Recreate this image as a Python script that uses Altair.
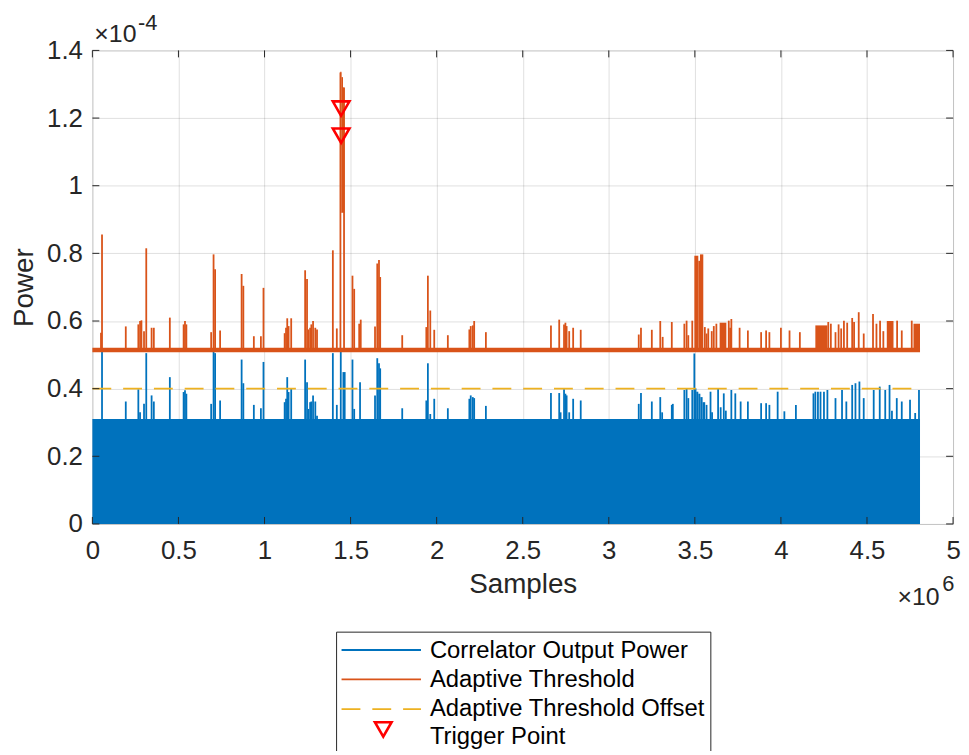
import altair as alt
import pandas as pd

# ---- data (x in units of 1e6 samples, power in units of 1e-4) ----
x_ticks = [0, 0.5, 1, 1.5, 2, 2.5, 3, 3.5, 4, 4.5, 5]
y_ticks = [0, 0.2, 0.4, 0.6, 0.8, 1.0, 1.2, 1.4]

signal_start = 0.0
signal_end = 4.808
blue_floor = 0.31
orange_floor = 0.514
offset_level = 0.40

blue_spike_x = [0.056, 0.194, 0.267, 0.277, 0.300, 0.313, 0.344, 0.357, 0.450, 0.530, 0.538, 0.546,
                0.690, 0.704, 0.713, 0.742, 0.867, 0.877, 0.938, 0.979, 0.994, 1.117, 1.125, 1.132,
                1.140, 1.155, 1.236, 1.247, 1.255, 1.265, 1.272, 1.282, 1.295, 1.305, 1.397, 1.420,
                1.443, 1.511, 1.521, 1.555, 1.642, 1.655, 1.665, 1.672, 1.800, 1.940, 1.949, 1.963,
                1.986, 2.065, 2.190, 2.198, 2.210, 2.218, 2.286, 2.664, 2.712, 2.720, 2.740, 2.748,
                2.755, 2.770, 2.793, 2.837, 3.174, 3.187, 3.250, 3.299, 3.310, 3.366, 3.372, 3.439,
                3.452, 3.462, 3.485, 3.497, 3.504, 3.568, 3.591, 3.600, 3.635, 3.650, 3.668, 3.680,
                3.712, 3.735, 3.766, 3.808, 3.885, 3.914, 3.933, 3.981, 4.020, 4.087, 4.189, 4.200,
                4.215, 4.230, 4.250, 4.270, 4.317, 4.355, 4.380, 4.414, 4.433, 4.456, 4.481, 4.539,
                4.574, 4.606, 4.631, 4.645, 4.673, 4.702, 4.750, 4.780, 4.802]
blue_spike_y = [0.509, 0.362, 0.398, 0.330, 0.355, 0.505, 0.380, 0.362, 0.434, 0.390, 0.395, 0.385,
                0.355, 0.509, 0.505, 0.365, 0.486, 0.416, 0.352, 0.342, 0.479, 0.360, 0.370, 0.434,
                0.390, 0.400, 0.486, 0.419, 0.340, 0.360, 0.362, 0.380, 0.362, 0.320, 0.505, 0.352,
                0.509, 0.486, 0.340, 0.419, 0.380, 0.490, 0.475, 0.460, 0.342, 0.365, 0.475, 0.325,
                0.370, 0.342, 0.370, 0.380, 0.375, 0.372, 0.349, 0.387, 0.387, 0.330, 0.398, 0.385,
                0.380, 0.330, 0.370, 0.365, 0.355, 0.387, 0.362, 0.375, 0.330, 0.352, 0.355, 0.396,
                0.401, 0.372, 0.396, 0.504, 0.401, 0.352, 0.391, 0.330, 0.401, 0.345, 0.386, 0.335,
                0.396, 0.386, 0.362, 0.362, 0.357, 0.357, 0.352, 0.391, 0.333, 0.352, 0.386, 0.391,
                0.391, 0.391, 0.391, 0.396, 0.372, 0.396, 0.362, 0.411, 0.416, 0.421, 0.372, 0.396,
                0.406, 0.396, 0.411, 0.335, 0.372, 0.362, 0.367, 0.328, 0.396]

blue_block_x1 = [1.453, 3.508, 3.520, 3.532, 3.545]
blue_block_x2 = [1.471, 3.520, 3.532, 3.545, 3.560]
blue_block_y = [0.449, 0.391, 0.385, 0.375, 0.360]

orange_spike_x = [0.050, 0.056, 0.194, 0.267, 0.277, 0.285, 0.300, 0.313, 0.344, 0.357, 0.450, 0.530,
                  0.538, 0.546, 0.690, 0.704, 0.713, 0.742, 0.867, 0.877, 0.938, 0.979, 0.994, 1.117,
                  1.125, 1.132, 1.140, 1.155, 1.236, 1.247, 1.255, 1.265, 1.272, 1.282, 1.295, 1.305,
                  1.397, 1.420, 1.441, 1.462, 1.511, 1.521, 1.550, 1.559, 1.642, 1.655, 1.665, 1.672,
                  1.800, 1.940, 1.949, 1.963, 1.986, 2.065, 2.190, 2.198, 2.210, 2.218, 2.286, 2.664,
                  2.712, 2.740, 2.748, 2.755, 2.770, 2.793, 2.837, 3.174, 3.187, 3.250, 3.299, 3.313,
                  3.366, 3.439, 3.452, 3.462, 3.485, 3.558, 3.568, 3.578, 3.598, 3.610, 3.625, 3.697,
                  3.705, 3.712, 3.760, 3.808, 3.885, 3.914, 3.933, 4.000, 4.050, 4.110, 4.275, 4.290,
                  4.317, 4.335, 4.350, 4.366, 4.385, 4.414, 4.425, 4.452, 4.481, 4.535, 4.555, 4.576,
                  4.595, 4.675, 4.702, 4.760]
orange_spike_y = [0.565, 0.856, 0.584, 0.590, 0.600, 0.602, 0.570, 0.815, 0.580, 0.580, 0.610, 0.590,
                  0.600, 0.590, 0.567, 0.797, 0.753, 0.572, 0.739, 0.704, 0.555, 0.555, 0.698, 0.564,
                  0.580, 0.608, 0.585, 0.608, 0.750, 0.724, 0.575, 0.580, 0.590, 0.600, 0.580, 0.575,
                  0.809, 0.578, 1.335, 1.290, 0.734, 0.695, 0.592, 0.604, 0.584, 0.770, 0.780, 0.730,
                  0.558, 0.582, 0.734, 0.631, 0.574, 0.558, 0.575, 0.585, 0.587, 0.600, 0.567, 0.587,
                  0.604, 0.590, 0.595, 0.585, 0.570, 0.580, 0.574, 0.560, 0.580, 0.574, 0.600, 0.553,
                  0.597, 0.592, 0.601, 0.558, 0.601, 0.582, 0.563, 0.578, 0.570, 0.585, 0.592, 0.601,
                  0.580, 0.606, 0.580, 0.572, 0.567, 0.572, 0.567, 0.580, 0.572, 0.567, 0.597, 0.592,
                  0.567, 0.590, 0.578, 0.601, 0.595, 0.609, 0.597, 0.626, 0.563, 0.621, 0.592, 0.601,
                  0.570, 0.601, 0.572, 0.601]

orange_block_x1 = [1.440, 1.447, 1.456, 3.497, 3.520, 3.530, 3.644, 4.200, 4.615, 4.770]
orange_block_x2 = [1.447, 1.456, 1.463, 3.520, 3.530, 3.549, 3.683, 4.270, 4.654, 4.808]
orange_block_top = [1.337, 1.321, 1.290, 0.793, 0.778, 0.797, 0.595, 0.587, 0.600, 0.592]
orange_block_base = [0.920, 0.920, 0.920, 0.514, 0.514, 0.514, 0.514, 0.514, 0.514, 0.514]

trigger_x = [1.445, 1.445]
trigger_y = [1.228, 1.148]

legend_labels = ["Correlator Output Power", "Adaptive Threshold",
                 "Adaptive Threshold Offset", "Trigger Point"]

# ---- styling ----
BLUE = "#0072BD"
ORANGE = "#D95319"
YELLOW = "#EDB120"
RED = "#FF0000"
AX = "#262626"
FONT = "Liberation Sans"
W, H = 867, 477
TICK_FS = 26
TITLE_FS = 28
LEG_FS = 24

xs = alt.Scale(domain=[0, 5], nice=False, zero=False)
ys = alt.Scale(domain=[0, 1.4], nice=False, zero=False)

x_axis = alt.Axis(values=x_ticks, format="~g", title="Samples", grid=True, ticks=False, tickSize=0,
                  domain=False, labelFontSize=TICK_FS, labelPadding=14, labelColor=AX, labelFont=FONT,
                  titleFont=FONT, titleFontSize=TITLE_FS, titleFontWeight="normal", titleColor=AX,
                  titleX=W / 2, titleY=69, titleBaseline="alphabetic", titleAlign="center",
                  gridColor=AX, gridOpacity=0.15, gridWidth=1, labelFlush=False, labelOverlap=False)
y_axis = alt.Axis(values=y_ticks, format="~g", title="Power", grid=True, ticks=False, tickSize=0,
                  domain=False, labelFontSize=TICK_FS, labelPadding=10, labelColor=AX, labelFont=FONT,
                  titleFont=FONT, titleFontSize=TITLE_FS, titleFontWeight="normal", titleColor=AX,
                  titleX=-60, titleY=H / 2, titleAngle=-90, titleBaseline="alphabetic",
                  titleAlign="center", gridColor=AX, gridOpacity=0.15, gridWidth=1,
                  labelFlush=False, labelOverlap=False)


def X(field):
    return alt.X(field, scale=xs, axis=x_axis)


def Y(field):
    return alt.Y(field, scale=ys, axis=y_axis)


# ---- data frames ----
base_df = pd.DataFrame({"x": [signal_start, signal_end], "y": [blue_floor, blue_floor]})
blue_spikes = pd.DataFrame({"x": blue_spike_x, "y": blue_spike_y, "base": blue_floor})
blue_blocks = pd.DataFrame({"x": blue_block_x1, "x2": blue_block_x2, "y": blue_block_y, "base": blue_floor})
orange_line = pd.DataFrame({"x": [signal_start, signal_end], "y": [orange_floor, orange_floor]})
orange_spikes = pd.DataFrame({"x": orange_spike_x, "y": orange_spike_y, "base": orange_floor})
orange_blocks = pd.DataFrame({"x": orange_block_x1, "x2": orange_block_x2,
                              "y": orange_block_top, "base": orange_block_base})
offset_df = pd.DataFrame({"x": [signal_start, signal_end], "y": [offset_level, offset_level]})
trig_df = pd.DataFrame({"x": trigger_x, "y": trigger_y})
xt_df = pd.DataFrame({"x": x_ticks})
yt_df = pd.DataFrame({"y": y_ticks})

blue_area = alt.Chart(base_df).mark_area(color=BLUE, opacity=1).encode(x=X("x:Q"), y=Y("y:Q"))
blue_rules = alt.Chart(blue_spikes).mark_rule(color=BLUE, strokeWidth=1.8).encode(
    x=X("x:Q"), y=Y("y:Q"), y2="base:Q")
blue_rects = alt.Chart(blue_blocks).mark_rect(color=BLUE).encode(
    x=X("x:Q"), x2="x2:Q", y=Y("y:Q"), y2="base:Q")
orange_base = alt.Chart(orange_line).mark_line(color=ORANGE, strokeWidth=4.5).encode(
    x=X("x:Q"), y=Y("y:Q"))
orange_rules = alt.Chart(orange_spikes).mark_rule(color=ORANGE, strokeWidth=1.8).encode(
    x=X("x:Q"), y=Y("y:Q"), y2="base:Q")
orange_rects = alt.Chart(orange_blocks).mark_rect(color=ORANGE).encode(
    x=X("x:Q"), x2="x2:Q", y=Y("y:Q"), y2="base:Q")
offset_line = alt.Chart(offset_df).mark_line(color=YELLOW, strokeWidth=1.8, strokeDash=[19, 12]).encode(
    x=X("x:Q"), y=Y("y:Q"))
triggers = alt.Chart(trig_df).mark_point(shape="triangle-down", filled=False, color=RED,
                                          strokeWidth=2.6, size=280, opacity=1).encode(
    x=X("x:Q"), y=Y("y:Q"))

TL = 7
xt_bottom = alt.Chart(xt_df).mark_rule(color=AX, strokeWidth=1).encode(
    x=X("x:Q"), y=alt.value(H), y2=alt.value(H - TL))
xt_top = alt.Chart(xt_df).mark_rule(color=AX, strokeWidth=1).encode(
    x=X("x:Q"), y=alt.value(0), y2=alt.value(TL))
yt_left = alt.Chart(yt_df).mark_rule(color=AX, strokeWidth=1).encode(
    y=Y("y:Q"), x=alt.value(0), x2=alt.value(TL))
yt_right = alt.Chart(yt_df).mark_rule(color=AX, strokeWidth=1).encode(
    y=Y("y:Q"), x=alt.value(W), x2=alt.value(W - TL))

one = alt.Data(values=[{}])


def label(text, x, y, size, align="left", baseline="alphabetic", color=AX):
    return alt.Chart(one).mark_text(text=text, font=FONT, fontSize=size, align=align,
                                    baseline=baseline, color=color).encode(
        x=alt.value(x), y=alt.value(y))


exp_y = label("×10", 2, -8, 25) + label("-4", 46, -21, 22)
exp_x = label("×10", 811, 559, 25) + label("6", 856, 545, 22)

# ---- legend ----
leg_box = alt.Chart(one).mark_rect(fill="white", stroke=AX, strokeWidth=1).encode(
    x=alt.value(246), x2=alt.value(623), y=alt.value(586), y2=alt.value(760))
row_y = [605, 634.5, 663.5, 692]
line_y = [604, 633.5, 663.5]
leg_lines = []
for i, (col, dash) in enumerate([(BLUE, [1, 0]), (ORANGE, [1, 0]), (YELLOW, [19, 12])]):
    leg_lines.append(
        alt.Chart(alt.Data(values=[{"label": legend_labels[i]}])).mark_rule(
            color=col, strokeWidth=1.8, strokeDash=dash).encode(
            x=alt.value(251), x2=alt.value(331), y=alt.value(line_y[i])))
leg_tri = alt.Chart(alt.Data(values=[{"label": legend_labels[3]}])).mark_point(
    shape="triangle-down", filled=False, color=RED, strokeWidth=2.6, size=280, opacity=1).encode(
    x=alt.value(293), y=alt.value(684))
leg_texts = [
    alt.Chart(alt.Data(values=[{"label": lab}])).mark_text(
        font=FONT, fontSize=LEG_FS, align="left", baseline="middle", color="#000000").encode(
        x=alt.value(340), y=alt.value(row_y[i]), text="label:N")
    for i, lab in enumerate(legend_labels)
]

chart = alt.layer(
    blue_area, blue_rules, blue_rects, orange_base, orange_rules, orange_rects, offset_line,
    triggers, xt_bottom, xt_top, yt_left, yt_right, exp_y, exp_x, leg_box, *leg_lines, leg_tri,
    *leg_texts,
).properties(
    width=W, height=H,
    autosize=alt.AutoSizeParams(type="none"),
    padding={"left": 85, "top": 40, "right": 8, "bottom": 226},
).configure_view(
    stroke=AX, strokeWidth=1.2,
).configure(background="white")

chart.save("out.html", embed_options={"renderer": "svg", "actions": False})
